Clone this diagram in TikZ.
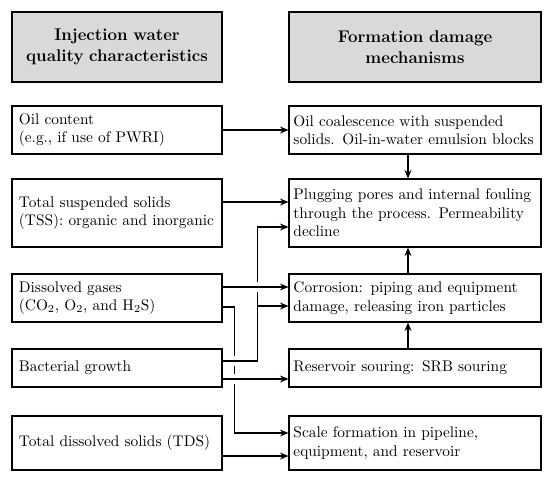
\documentclass[tikz,border=0pt]{standalone}
\usepackage{tikz}
\usetikzlibrary{arrows.meta,calc}
\pgfdeclarelayer{bg}
\pgfsetlayers{bg,main}

\begin{document}
\begin{tikzpicture}[x = 0.65pt, y = -0.65pt,
  head/.style = {draw, line width = 0.7pt, fill = gray!30, inner xsep = 2.9pt, minimum height = 45.5pt, align = center, font = \fontsize{11}{14}\selectfont\bfseries},
  lbox/.style = {draw, line width = 0.7pt, fill = white, text width = 127.5pt, inner xsep = 4.5pt, inner ysep = 2pt, align = left},
  rbox/.style = {lbox, text width = 158pt, inner xsep = 2.9pt},
  conn/.style = {line width = 0.7pt, -{Stealth[length = 5.5pt, width = 4.5pt]}},
  hop/.style = {preaction = {draw, white, line width = 7pt, -}}]
\useasboundingbox (0,0) rectangle (550,482);
% Headers
\node[head, text width = 130.7pt] (headL) at (117,47) {Injection water\\quality characteristics};
\node[head, text width = 158pt] (headR) at (415,47) {Formation damage\\mechanisms};
% Water quality characteristics
\node[lbox, minimum height = 31.2pt] (oil) at (117,130) {Oil content\\(e.g., if use of PWRI)};
\node[lbox, minimum height = 44.2pt] (tss) at (117,213) {Total suspended solids\\(TSS): organic and inorganic};
\node[lbox, minimum height = 31.2pt] (gas) at (117,298) {Dissolved gases\\(CO$_2$, O$_2$, and H$_2$S)};
\node[lbox, minimum height = 24.7pt] (bact) at (117,368) {Bacterial growth};
\node[lbox, minimum height = 35.1pt] (tds) at (117,443) {Total dissolved solids (TDS)};
% Damage mechanisms
\node[rbox, minimum height = 31.2pt] (coal) at (415,130) {Oil coalescence with suspended\\solids. Oil-in-water emulsion blocks};
\node[rbox, minimum height = 44.2pt] (plug) at (415,213) {Plugging pores and internal fouling\\through the process. Permeability\\decline};
\node[rbox, minimum height = 31.2pt] (corr) at (415,298) {Corrosion: piping and equipment\\damage, releasing iron particles};
\node[rbox, minimum height = 24.7pt] (sour) at (415,368) {Reservoir souring: SRB souring};
\node[rbox, minimum height = 35.1pt] (scale) at (415,443) {Scale formation in pipeline,\\equipment, and reservoir};
% Connectors
\begin{pgfonlayer}{bg}
\draw[conn] ($(gas.east)+(0,9)$) -| ($(scale.west)+(-54,-10)$) -- ($(scale.west)+(0,-10)$);
\draw[conn, hop] ($(bact.east)+(0,-7)$) -| ($(plug.west)+(-31,14)$) -- ($(plug.west)+(0,14)$);
\draw[conn] ($(corr.west)+(-31,8)$) -- ($(corr.west)+(0,8)$);
\draw[conn, hop] ($(gas.east)+(0,-11)$) -- ($(corr.west)+(0,-11)$);
\draw[conn, hop] ($(bact.east)+(0,11)$) -- ($(sour.west)+(0,11)$);
\draw[conn] (oil) -- (coal);
\draw[conn] ($(tss.east)+(0,-11)$) -- ($(plug.west)+(0,-11)$);
\draw[conn] ($(tds.east)+(0,13)$) -- ($(scale.west)+(0,13)$);
\draw[conn] ($(coal.south)+(-7,0)$) -- ($(plug.north)+(-7,0)$);
\draw[conn] ($(corr.north)+(-7,0)$) -- ($(plug.south)+(-7,0)$);
\draw[conn] ($(sour.north)+(-7,0)$) -- ($(corr.south)+(-7,0)$);
\end{pgfonlayer}
\end{tikzpicture}
\end{document}
